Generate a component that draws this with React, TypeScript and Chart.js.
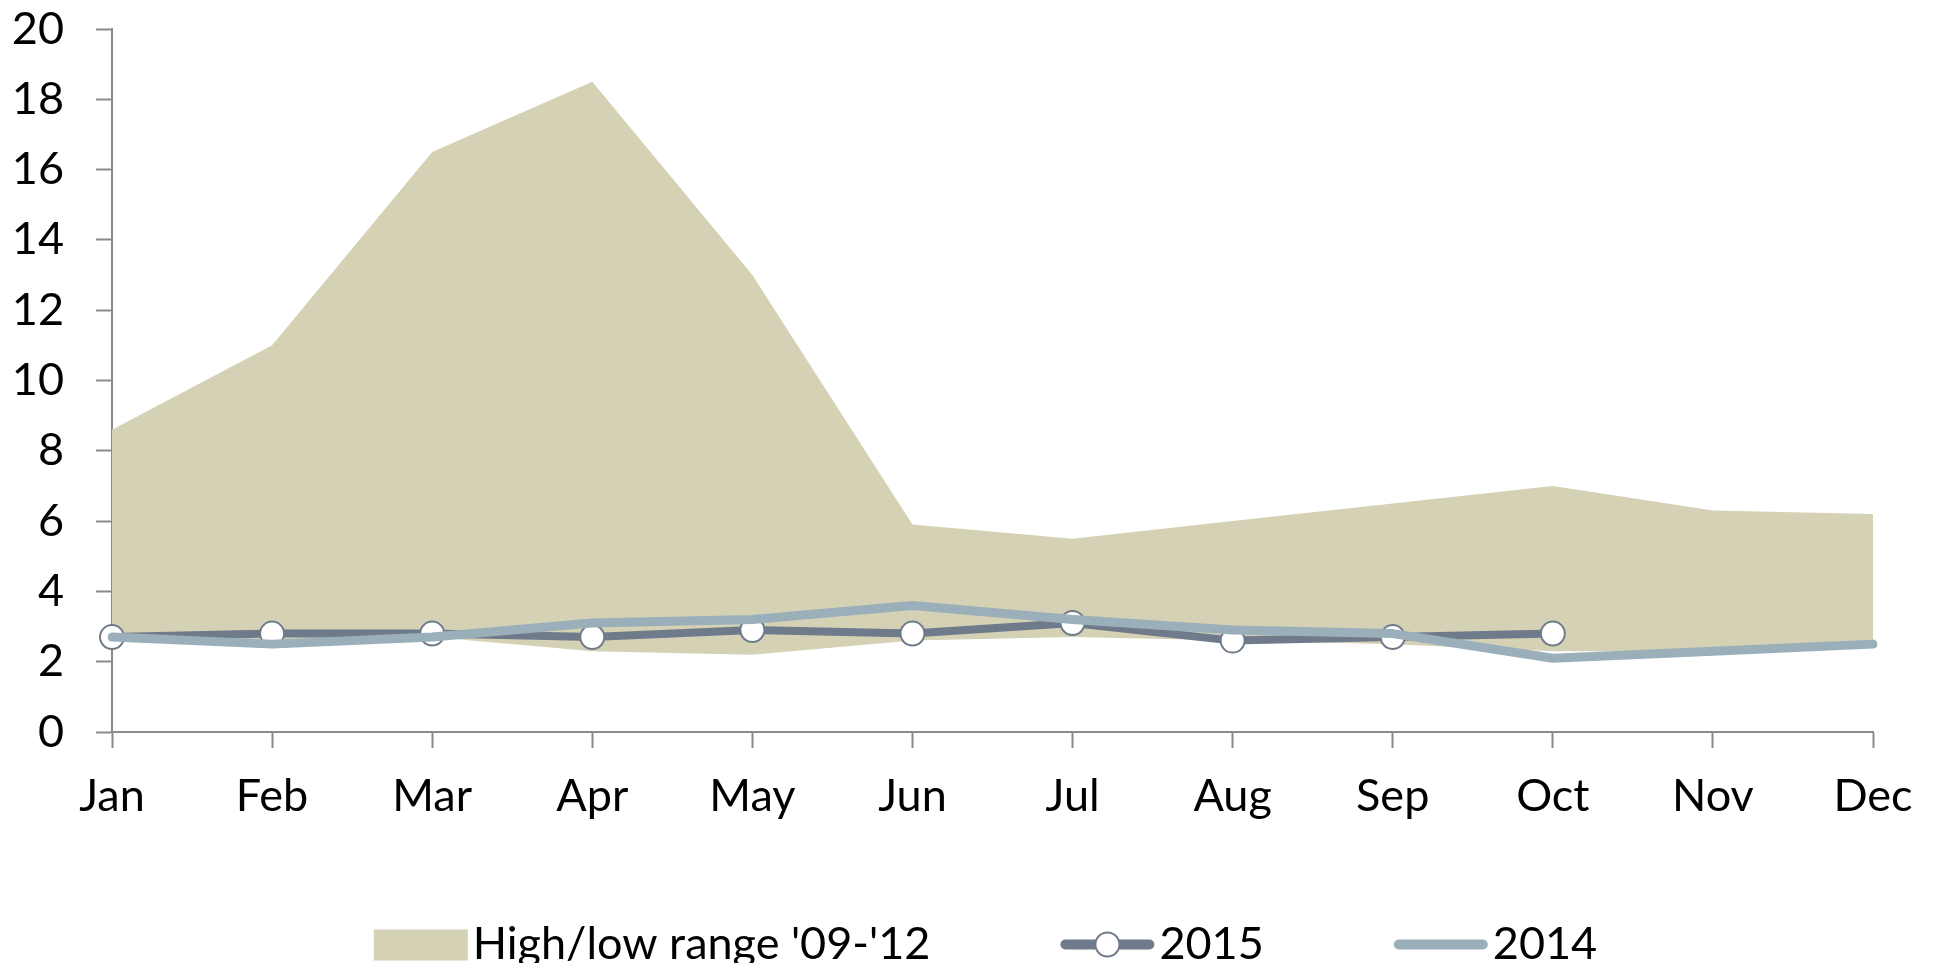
import React, { useEffect, useRef } from "react";
import { Chart, registerables } from "chart.js";

Chart.register(...registerables);

const months = ["Jan", "Feb", "Mar", "Apr", "May", "Jun", "Jul", "Aug", "Sep", "Oct", "Nov", "Dec"];
const rangeHigh = [8.6, 11.0, 16.5, 18.5, 13.0, 5.9, 5.5, 6.0, 6.5, 7.0, 6.3, 6.2];
const rangeLow = [2.6, 2.6, 2.7, 2.3, 2.2, 2.6, 2.7, 2.6, 2.5, 2.3, 2.3, 2.5];
const values2015 = [2.7, 2.8, 2.8, 2.7, 2.9, 2.8, 3.1, 2.6, 2.7, 2.8, null, null];
const values2014 = [2.7, 2.5, 2.7, 3.1, 3.2, 3.6, 3.2, 2.9, 2.8, 2.1, 2.3, 2.5];
const yTickValues = [0, 2, 4, 6, 8, 10, 12, 14, 16, 18, 20];

const labelRange = "High/low range '09-'12";
const label2015 = "2015";
const label2014 = "2014";

const FILL = "#d4d1b4";
const C2015 = "#6f7a8b";
const C2014 = "#9bafbb";
const AXIS = "#8a8a8a";
const FONT = "Lato";
const FONT_SIZE = 45;

const legendPlugin = {
  id: "customLegend",
  afterDraw(chart: any) {
    const ctx = chart.ctx as CanvasRenderingContext2D;
    const items = [
      { kind: "box", text: labelRange },
      { kind: "marker", text: label2015 },
      { kind: "line", text: label2014 },
    ];
    ctx.save();
    ctx.font = `${FONT_SIZE}px ${FONT}`;
    const iconW = 94;
    const gapIT = 5;
    const gapItems = 130;
    const widths = items.map((it) => iconW + gapIT + ctx.measureText(it.text).width);
    const total = widths.reduce((a, b) => a + b, 0) + gapItems * (items.length - 1);
    const cx = (chart.chartArea.left + chart.chartArea.right) / 2 - 7;
    let x = cx - total / 2;
    const y = 936.5;
    items.forEach((it, i) => {
      if (it.kind === "box") {
        ctx.fillStyle = FILL;
        ctx.fillRect(x, y - 15, iconW, 31);
      } else {
        ctx.beginPath();
        ctx.lineCap = "round";
        ctx.lineWidth = 10;
        ctx.strokeStyle = it.kind === "marker" ? C2015 : C2014;
        ctx.moveTo(x + 5, y);
        ctx.lineTo(x + iconW - 5, y);
        ctx.stroke();
        if (it.kind === "marker") {
          ctx.beginPath();
          ctx.arc(x + iconW / 2, y, 12, 0, Math.PI * 2);
          ctx.fillStyle = "#ffffff";
          ctx.fill();
          ctx.lineWidth = 2;
          ctx.strokeStyle = C2015;
          ctx.stroke();
        }
      }
      ctx.fillStyle = "#000";
      ctx.textBaseline = "middle";
      ctx.textAlign = "left";
      ctx.fillText(it.text, x + iconW + gapIT, y);
      x += widths[i] + gapItems;
    });
    ctx.restore();
  },
};

export default function App() {
  const ref = useRef<HTMLCanvasElement | null>(null);

  useEffect(() => {
    if (!ref.current) return;
    Chart.defaults.font.family = FONT;
    const chart = new Chart(ref.current, {
      type: "line",
      data: {
        labels: months,
        datasets: [
          {
            label: label2014,
            data: values2014,
            borderColor: C2014,
            backgroundColor: C2014,
            borderWidth: 9,
            pointRadius: 0,
            tension: 0,
            fill: false,
            borderCapStyle: "round",
            borderJoinStyle: "round",
            order: 1,
          },
          {
            label: label2015,
            data: values2015,
            borderColor: C2015,
            backgroundColor: C2015,
            borderWidth: 8,
            pointRadius: 12,
            pointBackgroundColor: "#ffffff",
            pointBorderColor: C2015,
            pointBorderWidth: 2,
            tension: 0,
            fill: false,
            borderCapStyle: "round",
            borderJoinStyle: "round",
            order: 2,
          },
          {
            label: labelRange,
            data: rangeHigh,
            borderWidth: 0,
            borderColor: "rgba(0,0,0,0)",
            backgroundColor: FILL,
            pointRadius: 0,
            tension: 0,
            fill: "+1",
            order: 3,
          },
          {
            label: "low",
            data: rangeLow,
            borderWidth: 0,
            borderColor: "rgba(0,0,0,0)",
            backgroundColor: "rgba(0,0,0,0)",
            pointRadius: 0,
            tension: 0,
            fill: false,
            order: 4,
          },
        ],
      },
      options: {
        animation: false,
        responsive: true,
        maintainAspectRatio: false,
        layout: { padding: { left: 0, right: 54, top: 21, bottom: 0 } },
        plugins: {
          legend: { display: false },
          tooltip: { enabled: false },
        },
        scales: {
          x: {
            type: "category",
            offset: false,
            afterFit: (scale: any) => {
              scale.paddingLeft = 0;
              scale.paddingRight = 0;
              scale.height = 231;
            },
            grid: {
              display: true,
              drawOnChartArea: false,
              drawTicks: true,
              tickLength: 16,
              tickWidth: 2,
              tickColor: AXIS,
            },
            border: { display: true, color: AXIS, width: 2 },
            ticks: {
              color: "#000",
              font: { size: FONT_SIZE, family: FONT },
              padding: 21,
              maxRotation: 0,
              autoSkip: false,
            },
          },
          y: {
            min: 0,
            max: 20,
            afterBuildTicks: (scale: any) => {
              scale.ticks = yTickValues.map((v) => ({ value: v }));
            },
            afterFit: (scale: any) => {
              scale.paddingTop = 0;
              scale.paddingBottom = 0;
              scale.width = 104;
            },
            grid: {
              display: true,
              drawOnChartArea: false,
              drawTicks: true,
              tickLength: 16,
              tickWidth: 2,
              tickColor: AXIS,
            },
            border: { display: true, color: AXIS, width: 2 },
            ticks: {
              color: "#000",
              font: { size: FONT_SIZE, family: FONT, lineHeight: 1 },
              padding: 32,
            },
          },
        },
      },
      plugins: [legendPlugin],
    });
    return () => chart.destroy();
  }, []);

  return (
    <div style={{ width: 1919, height: 955, position: "relative" }}>
      <canvas ref={ref} />
    </div>
  );
}
